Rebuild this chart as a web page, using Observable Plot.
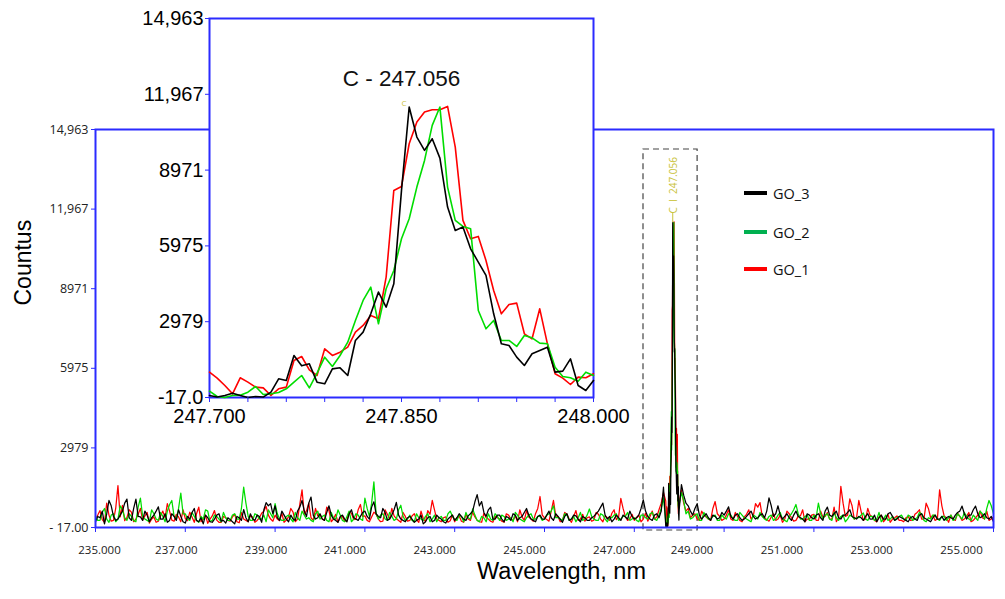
<!DOCTYPE html>
<html><head><meta charset="utf-8">
<script src="https://cdn.jsdelivr.net/npm/d3@7"></script>
<script src="https://cdn.jsdelivr.net/npm/@observablehq/plot@0.6"></script>
<style>
body{margin:0;background:#fff;}
#wrap{position:relative;width:1005px;height:599px;overflow:hidden;background:#fff;}
#wrap svg{position:absolute;left:0;top:0;}
.item{position:absolute;left:744px;display:flex;align-items:center;white-space:nowrap;font-family:"Open Sans";font-size:14.5px;color:#111;height:20px;}
.sw{width:23px;height:4px;margin-right:6px;}
</style></head><body><div id="wrap"></div>
<script>
// ---------- data ----------
const seriesNames = ["GO_1", "GO_2", "GO_3"];
const seriesColors = ["#ff0000", "#00dd00", "#000000"];
const legendColors = ["#ff0000", "#00b050", "#000000"];
const legendOrder = ["GO_3", "GO_2", "GO_1"];

// survey spectrum, 235.0 .. 255.0 nm every 0.1 nm (null = covered by peak scan)
const wlStart = 235, wlStep = 0.1;
const go1Coarse = [
 300,620,180,450,250,1560,820,350,560,300,
 700,420,150,380,220,600,880,260,480,200,
 320,560,180,750,300,140,420,260,180,350,
 220,480,160,300,200,380,250,520,780,300,
 450,240,180,380,560,300,1400,620,350,700,
 480,260,620,300,180,400,240,520,300,850,
 420,200,560,300,220,480,700,320,180,400,
 250,500,180,320,620,1000,300,200,380,240,
 200,420,180,300,560,260,180,350,220,400,
 300,180,450,250,200,380,620,300,500,1150,
 350,220,1000,400,250,480,180,620,300,220,
 380,260,480,200,350,520,280,1080,400,300,
 250,450,300,220,600,380,900,null,null,null,
 null,900,700,450,300,600,380,250,960,400,
 300,650,250,400,200,480,300,880,920,350,
 220,500,300,180,600,350,250,420,200,300,
 480,250,380,550,300,200,1530,400,1060,300,
 1000,250,700,380,200,450,300,180,350,250,
 200,400,260,550,300,900,350,250,1400,420,
 180,300,520,250,400,200,350,600,300,250,
 380];
const go2Coarse = [
 400,250,700,180,500,300,650,250,400,200,
 1090,300,200,500,250,400,600,1000,300,1280,
 500,250,400,180,300,600,250,400,200,350,
 250,500,300,1500,400,250,450,300,200,500,
 880,300,250,450,200,350,600,300,250,500,
 300,450,200,350,650,250,400,200,500,300,
 1090,400,1700,300,500,250,400,300,820,250,
 450,200,350,250,500,300,200,400,250,600,
 300,450,200,350,680,250,400,200,300,500,
 250,400,300,200,450,250,350,500,300,400,
 300,500,800,350,250,450,300,200,550,300,
 680,300,250,450,200,350,500,300,400,250,
 350,200,450,300,550,250,700,null,null,null,
 null,1000,600,350,500,250,400,300,450,250,
 350,500,300,250,450,300,200,400,550,300,
 400,250,450,300,200,500,850,300,400,250,
 450,900,300,500,250,350,400,200,450,300,
 350,530,250,400,300,200,450,300,250,400,
 300,450,250,350,500,200,300,450,250,400,
 350,250,500,300,400,250,350,600,300,1000,
 500];
const go3Coarse = [
 200,350,120,1000,400,300,600,1050,250,1050,
 380,600,200,450,760,300,180,500,250,400,
 150,300,700,200,120,350,180,450,220,150,
 280,120,350,660,200,300,450,180,920,880,
 800,250,450,200,300,600,1000,400,1130,300,
 500,250,800,300,180,450,200,650,300,400,
 600,300,950,400,700,250,450,930,300,200,
 400,180,300,120,350,200,450,300,150,380,
 250,500,300,420,600,1220,960,400,750,300,
 450,200,350,500,250,400,700,300,200,450,
 300,600,250,400,180,500,300,420,200,350,
 250,400,600,900,300,200,450,250,380,600,
 300,450,1020,400,250,500,600,null,null,null,
 null,1200,800,450,880,300,500,250,400,350,
 450,760,300,500,250,400,600,300,450,350,
 1100,400,800,300,500,250,600,350,200,450,
 300,500,250,750,400,600,300,450,650,350,
 400,250,500,300,200,450,300,550,250,400,
 300,200,400,250,500,300,200,450,300,250,
 400,300,550,790,300,450,790,350,500,300,
 200];

// survey spectrum, in-between readings 235.05 .. 254.95 nm every 0.1 nm
const wlHalfStart = 235.05;
const go1Half = [
 450,280,900,220,700,380,240,650,200,480,
 260,550,300,180,420,350,600,220,380,650,
 240,380,500,200,450,300,620,180,400,250,
 380,200,540,250,420,180,350,600,450,220,
 300,520,260,700,200,850,480,900,250,420,
 300,750,200,480,350,220,560,280,650,400,
 250,380,480,200,650,300,420,250,550,220,
 420,280,600,200,480,650,250,350,180,450,
 350,220,480,250,380,200,520,300,180,350,
 220,500,300,420,650,250,380,220,700,450,
 280,600,420,200,550,300,400,250,480,350,
 220,550,300,420,250,650,380,700,250,480,
 350,200,520,400,300,650,1300,null,null,null,
 1400,600,350,500,250,450,300,700,500,250,
 450,300,550,250,380,650,420,750,400,280,
 380,250,450,300,500,220,400,650,300,450,
 250,600,400,300,750,350,900,450,800,350,
 600,300,450,250,380,200,480,300,420,250,
 350,250,480,650,300,700,450,300,800,350,
 450,250,400,300,550,250,450,350,600,300];
const go2Half = [
 250,550,300,450,200,800,350,500,250,750,
 400,250,650,300,550,200,850,400,700,500,
 300,550,250,400,650,200,450,300,550,250,
 450,300,700,900,250,500,300,450,650,350,
 500,250,400,300,550,250,450,350,200,600,
 400,250,550,300,450,200,600,300,450,250,
 700,900,500,450,300,550,250,650,400,300,
 250,500,300,400,200,450,350,250,500,400,
 250,400,550,300,450,200,350,500,250,400,
 450,250,350,550,300,200,450,300,400,250,
 450,600,350,300,500,250,400,350,250,450,
 400,250,500,300,350,450,250,400,550,300,
 250,450,350,500,300,450,1100,null,null,null,
 1300,500,300,450,250,550,300,400,250,450,
 300,450,250,550,350,250,450,300,400,250,
 450,300,550,250,400,650,500,300,450,250,
 350,500,450,300,550,250,450,300,400,350,
 450,300,400,250,550,300,250,400,350,450,
 250,400,300,550,250,350,450,300,400,250,
 450,300,400,550,300,450,250,500,700,800];
const go3Half = [
 400,600,500,800,250,450,900,350,700,400,
 250,450,350,600,300,500,250,400,650,200,
 400,550,250,350,450,200,300,500,250,350,
 200,400,250,350,500,250,400,650,800,500,
 350,600,300,450,250,750,600,900,450,350,
 300,550,450,250,400,300,500,350,250,550,
 400,750,500,350,550,300,650,450,250,350,
 300,250,450,200,400,250,350,200,300,450,
 350,400,250,500,950,800,550,650,300,450,
 300,400,250,450,350,550,450,250,400,300,
 450,350,500,300,400,250,450,300,400,250,
 350,500,750,450,400,300,350,450,300,400,
 350,700,600,300,450,350,1500,null,null,null,
 1600,900,600,700,450,400,350,450,300,550,
 600,400,450,350,300,500,400,350,500,600,
 800,500,450,400,350,450,400,300,500,350,
 450,350,600,450,500,350,450,550,400,300,
 350,400,300,450,350,300,500,400,300,350,
 250,350,300,450,350,250,350,300,400,350,
 350,450,600,500,450,650,500,400,350,400];

// peak scan, 247.700 .. 248.000 nm every 0.006 nm
const peakStart = 247.7, peakStep = 0.006;
const go1Peak = [985,747,457,128,761,589,392,365,62,326,392,1446,1604,1077,853,1907,1644,1775,1973,2566,2830,3225,3093,4741,8168,8326,10013,10870,11265,11357,11357,11489,9881,6982,6257,6349,5400,4214,3291,3660,3713,2500,2303,3489,2105,919,747,497,787,761,919];
const go2Peak = [233,23,-17,62,75,194,418,102,128,181,326,589,853,365,945,1578,1209,1644,2171,3028,3818,4346,2896,4280,5005,6257,7047,8300,9354,10738,11463,8300,6982,6744,6652,3423,2698,3028,2237,2237,2000,2434,2342,2131,2105,1182,813,761,629,985,853];
const go3Peak = [62,0,62,154,62,-17,23,0,194,721,655,1644,1235,1314,589,523,1116,1156,853,2237,2566,3291,4148,3555,4477,8168,11463,10277,9749,10211,9446,7509,6586,6718,5861,5334,4807,3291,2105,2039,1578,1248,1710,1841,1973,985,1024,1512,457,260,655];

// axes
const mainXTicks = [235,237,239,241,243,245,247,249,251,253,255];
const mainYTicks = [-17,2979,5975,8971,11967,14963];
const mainYLabels = ["- 17.00","2979","5975","8971","11,967","14,963"];
const insetYLabels = ["-17.0","2979","5975","8971","11,967","14,963"];
const insetXTicks = [247.70,247.73,247.76,247.79,247.82,247.85,247.88,247.91,247.94,247.97,248.00];
const insetXLabels = [247.70,247.85,248.00];

// annotations
const insetTitle = "C - 247.056";
const peakLabel = "C  I  247.056";
const peakWl = 247.856;
const peakLabelBase = 11800;
const peakBox = {x1: 247.205, x2: 248.41, y1: -130, y2: 14211};
const xTitle = "Wavelength, nm";
const yTitle = "Countus";

// ---------- build ----------
const blue = "#2b2bff";
const fmt3 = d3.format(".3f");
const yMainMap = new Map(mainYTicks.map((t, i) => [t, mainYLabels[i]]));
const yInsetMap = new Map(mainYTicks.map((t, i) => [t, insetYLabels[i]]));

function buildMain(coarse, half, peak) {
  const pts = [];
  const add = (start) => (v, k) => {
    const wl = start + k * wlStep;
    if (v != null && (wl < 247.69 || wl > 248.01)) pts.push({wl, v});
  };
  coarse.forEach(add(wlStart));
  half.forEach(add(wlHalfStart));
  peak.forEach((v, i) => pts.push({wl: peakStart + i * peakStep, v}));
  return pts.sort((a, b) => a.wl - b.wl);
}
function buildPeak(peak) {
  return peak.map((v, i) => ({wl: peakStart + i * peakStep, v}));
}
const coarseSets = [go1Coarse, go2Coarse, go3Coarse];
const halfSets = [go1Half, go2Half, go3Half];
const peakSets = [go1Peak, go2Peak, go3Peak];

const mainLines = coarseSets.map((c, i) =>
  Plot.line(buildMain(c, halfSets[i], peakSets[i]), {x: "wl", y: "v", stroke: seriesColors[i], strokeWidth: 1.25}));
const insetLines = peakSets.map((p, i) =>
  Plot.line(buildPeak(p), {x: "wl", y: "v", stroke: seriesColors[i], strokeWidth: 1.6}));

const lbl = {tickSize: 0, tickPadding: 18, tickFormat: fmt3, fill: "#222", fontSize: 11.5, label: null};
const titleFont = "Liberation Sans";

const main = Plot.plot({
  width: 1005, height: 599,
  marginLeft: 95, marginRight: 12, marginTop: 129, marginBottom: 72,
  x: {domain: [235, 255], axis: null, label: null},
  y: {domain: [-17, 14963], axis: null, label: null},
  style: {background: "white", fontFamily: "Open Sans", fontSize: "12.5px", color: "#222"},
  marks: [
    Plot.rect([peakBox], {x1: "x1", x2: "x2", y1: "y1", y2: "y2", fill: "none", stroke: "#444", strokeWidth: 1.2, strokeDasharray: "6,4"}),
    ...mainLines,
    Plot.ruleX([peakWl], {y1: peakLabelBase - 350, y2: peakLabelBase, stroke: "#c9c23a", strokeWidth: 1}),
    Plot.text([peakLabel], {x: peakWl, y: peakLabelBase, text: d => d, rotate: -90, textAnchor: "start", fill: "#c9c23a", fontSize: 10, dx: 1}),
    Plot.frame({stroke: blue, strokeWidth: 2}),
    Plot.axisY({ticks: mainYTicks, tickFormat: d => yMainMap.get(d), tickSize: 4, tickPadding: 3, stroke: blue, fill: "#222", fontSize: 12.5, label: null}),
    Plot.axisX({ticks: mainXTicks, tickSize: 5, tickFormat: () => "", stroke: blue, label: null}),
    Plot.axisX({...lbl, ticks: [235], dx: 4}),
    Plot.axisX({...lbl, ticks: [237, 239], dx: -9}),
    Plot.axisX({...lbl, ticks: [241, 243, 245, 247], dx: -20}),
    Plot.axisX({...lbl, ticks: [249, 251, 253, 255], dx: -32}),
    Plot.text([yTitle], {text: d => d, frameAnchor: "left", dx: -72, dy: -23, rotate: -90, fontSize: 23, fontFamily: titleFont, fill: "#000"}),
    Plot.text([xTitle], {text: d => d, frameAnchor: "bottom", dx: 17, dy: 51, fontSize: 23.5, fontFamily: titleFont, fill: "#000"})
  ]
});

const inset = Plot.plot({
  width: 1005, height: 599,
  marginLeft: 209, marginRight: 412, marginTop: 18, marginBottom: 202,
  x: {domain: [247.7, 248.0], axis: null, label: null},
  y: {domain: [-17, 14963], axis: null, label: null},
  style: {background: "transparent", fontFamily: "Liberation Sans", fontSize: "20px", color: "#000"},
  marks: [
    Plot.frame({fill: "white", stroke: blue, strokeWidth: 2}),
    ...insetLines,
    Plot.text(["C"], {x: peakWl - 0.004, y: 11600, text: d => d, fill: "#c9c23a", fontSize: 8, fontFamily: "Open Sans"}),
    Plot.text([insetTitle], {text: d => d, frameAnchor: "top", dy: 52, fontSize: 22.5, fontFamily: titleFont, fill: "#111"}),
    Plot.axisY({ticks: mainYTicks, tickFormat: d => yInsetMap.get(d), tickSize: 4, tickPadding: 2, stroke: blue, fill: "#000", fontSize: 20, label: null}),
    Plot.axisX({ticks: insetXTicks, tickSize: 5, tickFormat: () => "", stroke: blue, label: null}),
    Plot.axisX({ticks: insetXLabels, tickSize: 0, tickPadding: 11, tickFormat: fmt3, fill: "#000", fontSize: 20, label: null})
  ]
});

const wrap = document.getElementById("wrap");
wrap.appendChild(main);
wrap.appendChild(inset);

// legend
const legendTops = [183, 222, 259];
legendOrder.forEach((name, i) => {
  const idx = seriesNames.indexOf(name);
  const d = document.createElement("div");
  d.className = "item";
  d.style.top = legendTops[i] + "px";
  d.innerHTML = `<span class="sw" style="background:${legendColors[idx]}"></span><span>${name}</span>`;
  wrap.appendChild(d);
});
</script></body></html>
